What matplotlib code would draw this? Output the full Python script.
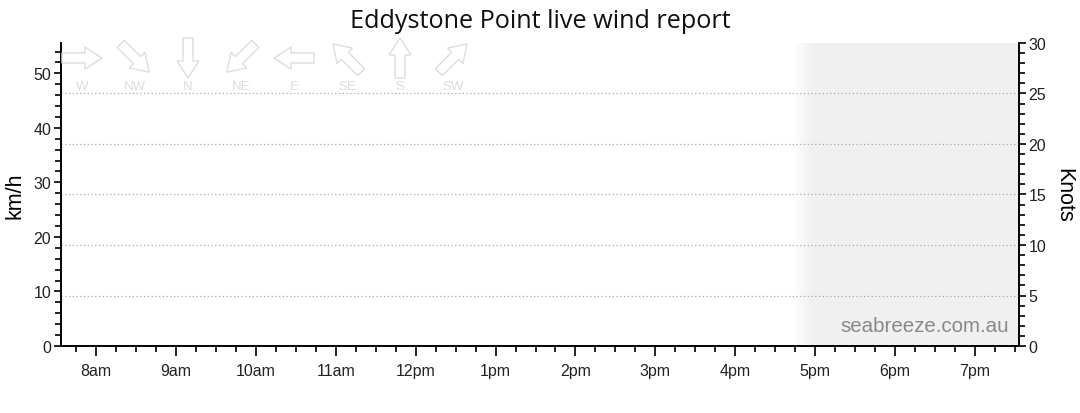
import numpy as np
import matplotlib
matplotlib.use("Agg")
import matplotlib.pyplot as plt
from matplotlib.patches import Polygon
from matplotlib.ticker import MultipleLocator
from matplotlib.colors import LinearSegmentedColormap

# ---- data ----
title = "Eddystone Point live wind report"
hours = [8, 9, 10, 11, 12, 13, 14, 15, 16, 17, 18, 19]
hour_labels = ["8am", "9am", "10am", "11am", "12pm", "1pm", "2pm", "3pm", "4pm", "5pm", "6pm", "7pm"]
x_range = [7.5625, 19.55]
kmh_max = 30 * 1.852
knots_ticks = [0, 5, 10, 15, 20, 25, 30]
kmh_ticks = [0, 10, 20, 30, 40, 50]
future_start = 16.72
future_full = 16.97
compass_labels = ["W", "NW", "N", "NE", "E", "SE", "S", "SW"]
compass_from_deg = [270, 315, 0, 45, 90, 135, 180, 225]

W, H = 1080, 414
fig = plt.figure(figsize=(W / 100, H / 100), dpi=100)
plt.rcParams['font.family'] = ['Liberation Sans', 'DejaVu Sans']
ax = fig.add_axes([61 / W, 1 - 347 / H, (1019 - 61) / W, (347 - 44) / H])

# future shading with gradient
grad = np.linspace(0, 1, 64)[None, :]
cm = LinearSegmentedColormap.from_list("g", ["#ffffff", "#f0f0f0"])
ax.imshow(grad, cmap=cm, aspect="auto", extent=[future_start, future_full, 0, kmh_max], zorder=0)
ax.axvspan(future_full, x_range[1], color="#f0f0f0", lw=0, zorder=0)
ax.set_xlim(*x_range)
ax.set_ylim(0, kmh_max)

ax2 = ax.twinx()
ax2.set_ylim(0, 30)
ax2.set_yticks(knots_ticks)
ax2.yaxis.set_minor_locator(MultipleLocator(1))
for k in knots_ticks[1:-1]:
    ax2.axhline(k, color="#aaaaaa", lw=0.9, ls=(0, (1, 2)), zorder=1)

ax.set_yticks(kmh_ticks)
ax.yaxis.set_minor_locator(MultipleLocator(2))
ax.set_xticks(hours)
ax.set_xticklabels(hour_labels)
ax.xaxis.set_minor_locator(MultipleLocator(0.25))

for a in (ax, ax2):
    a.spines["top"].set_visible(False)
    for s in a.spines.values():
        s.set_linewidth(1.2)
        s.set_color("black")
ax.tick_params(axis="y", which="major", length=5, width=1.2, labelsize=11.5, labelcolor="#222222", pad=2)
ax.tick_params(axis="y", which="minor", length=4, width=1.2)
ax.tick_params(axis="x", which="major", length=7, width=1.2, labelsize=11.5, labelcolor="#222222", pad=5)
ax.tick_params(axis="x", which="minor", length=4, width=1.2)
ax2.tick_params(axis="y", which="major", length=5, width=1.2, labelsize=11.5, labelcolor="#222222", pad=2)
ax2.tick_params(axis="y", which="minor", length=4, width=1.2)

ax.set_ylabel("km/h", fontsize=15.5, labelpad=6)
ax2.set_ylabel("Knots", fontsize=15.5, rotation=-90, labelpad=20)

fig.text(540 / W, 1 - 22 / H, title, ha="center", va="center", fontsize=18.2,
         family=["Open Sans", "DejaVu Sans"], color="#111111")

ax.text(0.99, 0.035, "seabreeze.com.au", transform=ax.transAxes, ha="right", va="bottom",
        fontsize=14.8, color="#888888", zorder=5)

# compass legend arrows (pixel coords)
L, hw, sw, hl = 40, 11, 5, 17
base = np.array([[-L / 2, -sw], [L / 2 - hl, -sw], [L / 2 - hl, -hw], [L / 2, 0],
                 [L / 2 - hl, hw], [L / 2 - hl, sw], [-L / 2, sw]])
for i, (lab, d) in enumerate(zip(compass_labels, compass_from_deg)):
    cx, cy = 82 + 53 * i, 59
    b = np.deg2rad((d + 180) % 360)
    dx, dy = np.sin(b), np.cos(b)
    rot = np.array([[dx, -dy], [dy, dx]])
    pts = base @ rot.T
    pts[:, 0] += cx
    pts[:, 1] = (H - cy) + pts[:, 1]
    figpts = np.column_stack([pts[:, 0] / W, pts[:, 1] / H])
    fig.patches.append(Polygon(figpts, closed=True, fill=False, edgecolor="#dddddd", lw=1.0,
                               transform=fig.transFigure, zorder=10))
    fig.text(cx / W, 1 - 87 / H, lab, ha="center", va="center", fontsize=9.5, color="#dddddd")

fig.savefig("out.png", dpi=100)
